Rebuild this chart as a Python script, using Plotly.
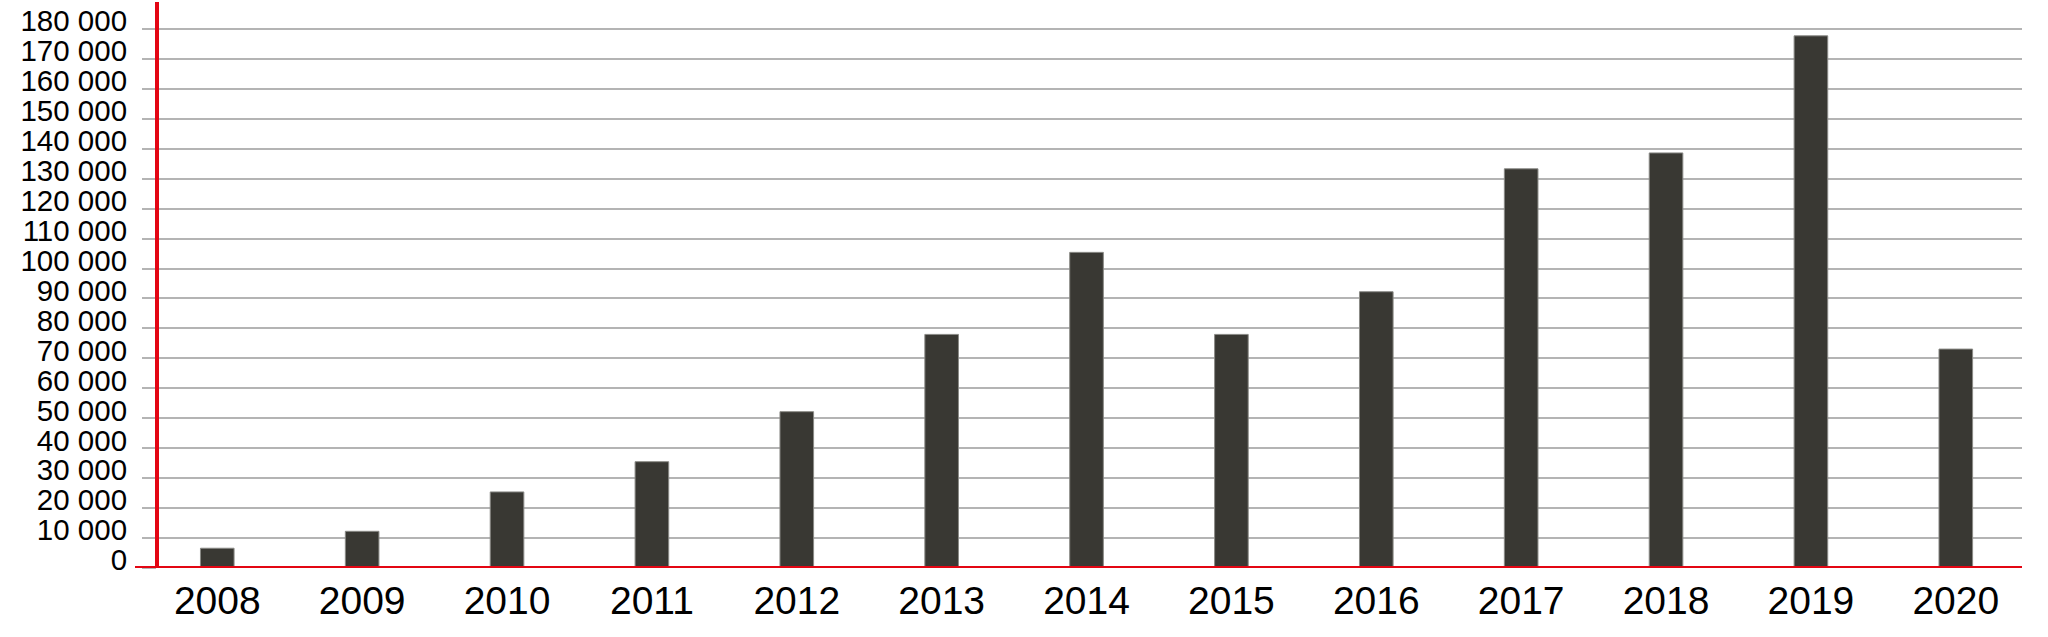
import plotly.graph_objects as go

years = ["2008", "2009", "2010", "2011", "2012", "2013", "2014",
         "2015", "2016", "2017", "2018", "2019", "2020"]
values = [6600, 12250, 25400, 35500, 52200, 78000, 105400,
          78000, 92250, 133300, 138600, 177700, 73100]
y_tick_vals = [0, 10000, 20000, 30000, 40000, 50000, 60000, 70000, 80000, 90000,
               100000, 110000, 120000, 130000, 140000, 150000, 160000, 170000, 180000]
y_tick_text = ["0", "10 000", "20 000", "30 000", "40 000", "50 000", "60 000",
               "70 000", "80 000", "90 000", "100 000", "110 000", "120 000",
               "130 000", "140 000", "150 000", "160 000", "170 000", "180 000"]

RED = "#E30613"
GRID = "#B4B4B4"
FONT = "Liberation Sans, Arial, sans-serif"

fig = go.Figure()
fig.add_trace(go.Bar(
    x=years, y=values, width=0.232,
    marker=dict(color="#393833", line=dict(color="#8a8a86", width=1)),
    hoverinfo="x+y",
))

W, H = 2048, 637
ml, mr, mt, mb = 157, 26, 2, 69

fig.update_layout(
    width=W, height=H,
    margin=dict(l=ml, r=mr, t=mt, b=mb, pad=0, autoexpand=False),
    paper_bgcolor="white", plot_bgcolor="white",
    showlegend=False,
    font=dict(family=FONT, color="black"),
    xaxis=dict(
        type="category", range=[-0.416, 12.457], automargin=False,
        showgrid=False, showline=False, zeroline=False, ticks="",
        tickfont=dict(size=39, family=FONT, color="black"),
        ticklabelstandoff=6,
    ),
    yaxis=dict(
        range=[0, 189000], automargin=False,
        tickvals=y_tick_vals, ticktext=y_tick_text,
        showgrid=True, gridcolor=GRID, gridwidth=1.5,
        zeroline=False, showline=False,
        ticks="outside", ticklen=14, tickcolor=GRID, tickwidth=1.5,
        tickfont=dict(size=29.5, family=FONT, color="black"),
        ticklabelshift=-8, ticklabelstandoff=9,
    ),
    shapes=[
        dict(type="line", xref="paper", yref="y", x0=-22 / (W - ml - mr), x1=1,
             y0=0, y1=0, line=dict(color=RED, width=4), layer="above"),
        dict(type="line", xref="paper", yref="paper", x0=0, x1=0,
             y0=0, y1=1, line=dict(color=RED, width=4), layer="above"),
    ],
)

fig.write_html(
    "out.html",
    config={"displayModeBar": False},
    post_script="document.body.style.margin='0';document.body.style.overflow='hidden';",
)
